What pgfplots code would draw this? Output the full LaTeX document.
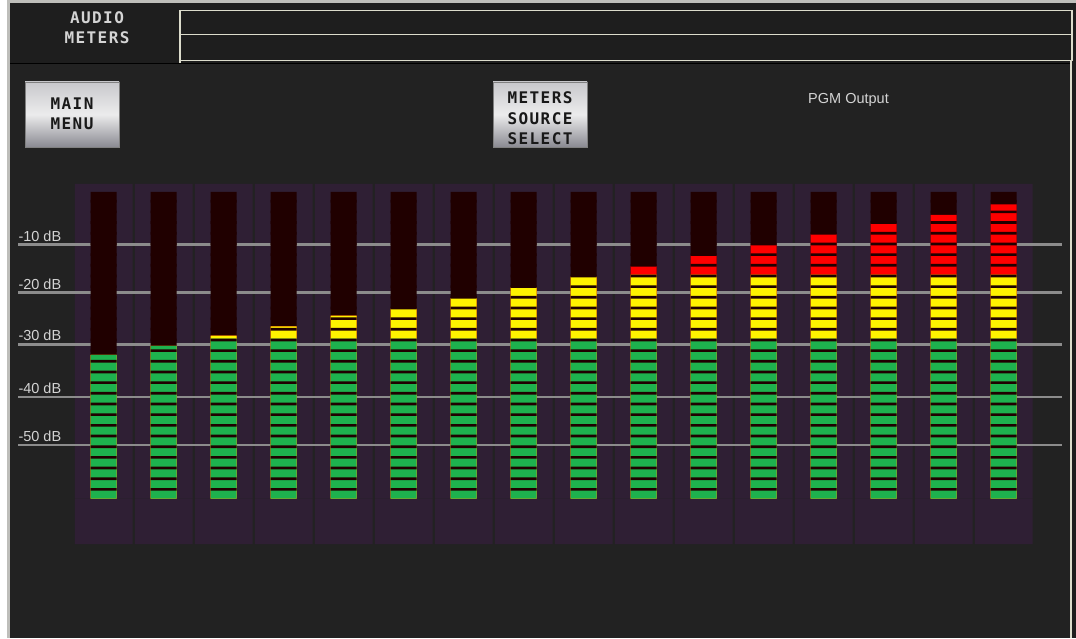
\documentclass[border=0pt]{standalone}
\usepackage{fontspec}
\setmainfont{Liberation Sans}
\newfontfamily\pixfont[LetterSpace=9]{DejaVu Sans Mono}
\usepackage{pgfplots}
\usepackage{pgfplotstable}
\pgfplotsset{compat=1.18}

\definecolor{framegray}{RGB}{190,190,186}
\definecolor{hdrbg}{RGB}{30,30,30}
\definecolor{panel}{RGB}{34,34,34}
\definecolor{boxline}{RGB}{220,220,204}
\definecolor{colbg}{RGB}{47,31,52}
\definecolor{meterdark}{RGB}{32,0,0}
\definecolor{mgreen}{RGB}{30,178,78}
\definecolor{myellow}{RGB}{255,242,0}
\definecolor{mred}{RGB}{255,0,0}
\definecolor{gridgray}{RGB}{140,140,140}
\definecolor{labgray}{RGB}{212,212,212}
\definecolor{btntop}{RGB}{200,200,204}
\definecolor{btnmid}{RGB}{236,236,236}
\definecolor{btnbot}{RGB}{138,138,146}

% meter level per channel, in segments (15 green, 6 yellow, 8 red)
\pgfplotstableread{
ch level
1  13.47
2  14.31
3  15.28
4  16.15
5  17.16
6  17.80
7  18.80
8  19.80
9  20.80
10 21.80
11 22.80
12 23.80
13 24.80
14 25.80
15 26.59
16 27.59
}\meters

\begin{document}
\begin{tikzpicture}
\begin{scope}[x=1pt,y=1pt]
\fill[white] (0,0) rectangle (1076,-638);
\fill[framegray] (7,0) rectangle (1076,-638);
\fill[hdrbg] (9.5,-3) rectangle (1076,-638);

% header
\draw[boxline, line width=1.5pt] (180,-10.5) rectangle (1072,-34.5);
\draw[boxline, line width=1.5pt] (180,-34.5) rectangle (1072,-60.5);
\draw[boxline, line width=1.5pt] (180,-60.5) -- (180,-63);
\node[anchor=base, inner sep=0pt, text=labgray, font={\pixfont\bfseries\fontsize{16}{20}\selectfont}] at (97,-23.3) {AUDIO};
\node[anchor=base, inner sep=0pt, text=labgray, font={\pixfont\bfseries\fontsize{16}{20}\selectfont}] at (97,-43.3) {METERS};

% main area
\fill[panel] (10,-64) rectangle (1070,-638);
\draw[black, line width=1.5pt] (10,-63.5) -- (1070,-63.5);
\draw[boxline, line width=1.5pt] (1071,-61) -- (1071,-638);

% buttons
\shade[top color=btntop, bottom color=btnbot, middle color=btnmid, draw=gray] (25,-82) rectangle (119,-147);
\shade[top color=btntop, bottom color=btnbot, middle color=btnmid, draw=gray] (493,-82) rectangle (587,-147);
\begin{scope}[every node/.style={anchor=base, inner sep=0pt, text=black!90, font={\pixfont\bfseries\fontsize{16}{20}\selectfont}}]
\node at (72,-110) {MAIN};
\node at (72,-130) {MENU};
\node at (540,-104) {METERS};
\node at (540,-125) {SOURCE};
\node at (540,-145) {SELECT};
\end{scope}
\node[anchor=base west, inner sep=0pt, text=labgray, font=\fontsize{14.5}{16}\selectfont] at (808,-104) {PGM Output};
\end{scope}

\begin{axis}[
    at={(73.7pt,-544pt)}, anchor=south west,
    scale only axis, width=960pt, height=360pt,
    xmin=0.5, xmax=16.5, ymin=-4.245, ymax=29.49,
    hide axis, clip=false,
]
% channel backgrounds
\addplot[ybar, bar shift=0pt, bar width=57.7pt, fill=colbg, draw=none] table[x=ch, y expr=29.49]{\meters};
\addplot[ybar, bar shift=0pt, bar width=57.7pt, fill=colbg, draw=none] table[x=ch, y expr=-4.245]{\meters};

% dB reference lines
\draw[gridgray, line width=2.6pt] (axis cs:-0.423,23.81) -- (axis cs:16.97,23.81);
\draw[gridgray, line width=2.6pt] (axis cs:-0.423,19.31) -- (axis cs:16.97,19.31);
\draw[gridgray, line width=2.6pt] (axis cs:-0.423,14.47) -- (axis cs:16.97,14.47);
\draw[gridgray, line width=2.6pt] (axis cs:-0.423,9.53) -- (axis cs:16.97,9.53);
\draw[gridgray, line width=2.6pt] (axis cs:-0.423,5.03) -- (axis cs:16.97,5.03);
\begin{scope}[every node/.style={anchor=base west, inner sep=0pt, yshift=3.5pt, text=labgray, font=\fontsize{14.5}{16}\selectfont}]
\node at (axis cs:-0.423,23.81) {-10 dB};
\node at (axis cs:-0.423,19.31) {-20 dB};
\node at (axis cs:-0.423,14.47) {-30 dB};
\node at (axis cs:-0.423,9.53) {-40 dB};
\node at (axis cs:-0.423,5.03) {-50 dB};
\end{scope}

% meters
\addplot[ybar, bar shift=0pt, bar width=26pt, fill=meterdark, draw=none] table[x=ch, y expr=28.75]{\meters};
\addplot[ybar, bar shift=0pt, bar width=26pt, fill=mred, draw=none] table[x=ch, y=level]{\meters};
\addplot[ybar, bar shift=0pt, bar width=26pt, fill=myellow, draw=none] table[x=ch, y expr={min(\thisrow{level},21)}]{\meters};
\addplot[ybar, bar shift=0pt, bar width=26pt, fill=mgreen, draw=none] table[x=ch, y expr={min(\thisrow{level},15)}]{\meters};

% segment gaps
\pgfplotsinvokeforeach{0,...,27}{
  \fill[meterdark] \foreach \i in {1,...,16} {(axis cs:{\i-0.2167},{#1+0.75}) rectangle (axis cs:{\i+0.2167},{#1+1})};
}
\end{axis}
\end{tikzpicture}
\end{document}
